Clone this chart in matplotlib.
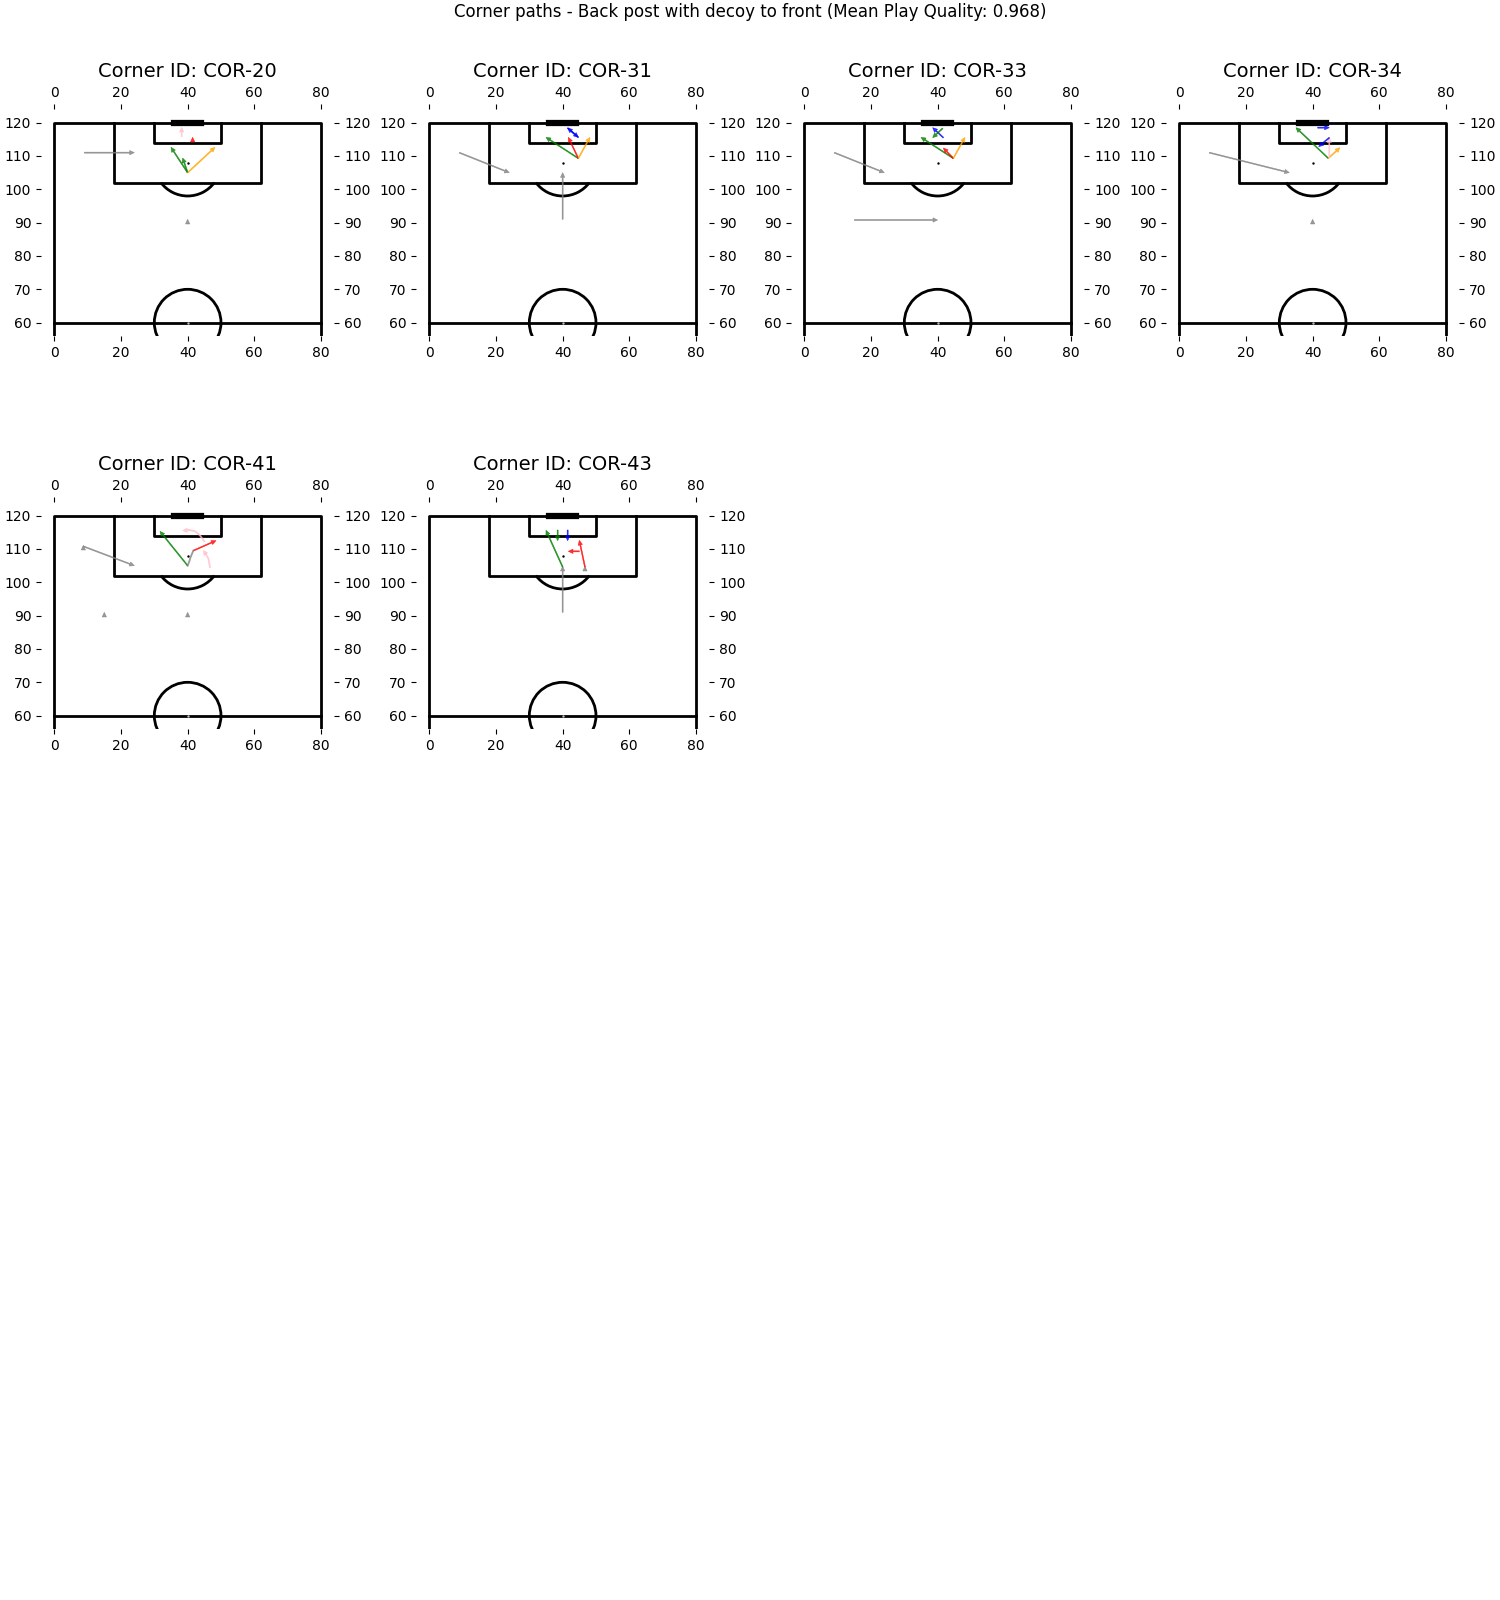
import numpy as np
import matplotlib.pyplot as plt
from matplotlib.patches import Arc, Circle

# ---------- data ----------
suptitle = 'Corner paths - Back post with decoy to front (Mean Play Quality: 0.968)'
corner_ids = ['COR-20', 'COR-31', 'COR-33', 'COR-34', 'COR-41', 'COR-43']

# (x0, y0, x1, y1, colour) in statsbomb pitch units
arrows_cor20 = [(9, 111, 24, 111, 'gray'), (40, 89.6, 40, 91.0, 'gray'),
                (40, 105, 35, 112.6, 'green'), (40, 105, 38.5, 109.4, 'green'),
                (40, 105, 48.2, 112.6, 'orange'), (41.5, 114.2, 41.5, 115.6, 'red'),
                (38.2, 115.8, 38.2, 118.6, 'pink')]
arrows_cor31 = [(9, 111, 24, 105, 'gray'), (40, 91, 40, 105, 'gray'),
                (44.7, 109.3, 35, 115.6, 'green'), (44.7, 109.3, 41.7, 115.6, 'red'),
                (44.7, 109.3, 48.2, 115.6, 'orange'), (44.7, 115.6, 41.5, 118.4, 'blue'),
                (41.5, 118.4, 44.7, 115.6, 'blue')]
arrows_cor33 = [(9, 111, 24, 105, 'gray'), (15, 90.8, 40, 90.8, 'gray'),
                (44.7, 109.3, 35, 115.6, 'green'), (44.7, 109.3, 41.7, 112.4, 'red'),
                (44.7, 109.3, 48.2, 115.6, 'orange'), (41.7, 115.5, 38.5, 118.5, 'blue'),
                (41.5, 118.3, 38.5, 115.5, 'green')]
arrows_cor34 = [(9, 111, 33, 105, 'gray'), (40, 89.6, 40, 91.0, 'gray'),
                (44.7, 109.3, 35, 118.5, 'green'), (44.7, 109.3, 48.2, 112.5, 'orange'),
                (45, 109.5, 45, 115.5, 'pink'), (45, 115.5, 41.8, 112.8, 'blue'),
                (41.5, 118.5, 45, 118.5, 'blue')]
arrows_cor41 = [(8.7, 110.8, 24, 105, 'gray'), (8.7, 109.7, 8.7, 111.1, 'gray'),
                (15, 89.6, 15, 91.0, 'gray'), (40, 89.6, 40, 91.0, 'gray'),
                (40, 105, 31.7, 115.3, 'green'), (41.7, 109.5, 48.5, 112.5, 'red')]
arrows_cor43 = [(40, 91, 40, 104.8, 'gray'), (46.7, 103.4, 46.7, 104.8, 'gray'),
                (40, 104.6, 35, 115.6, 'green'), (38.5, 115.7, 38.5, 112.5, 'green'),
                (41.5, 115.7, 41.5, 112.5, 'blue'), (45, 109.3, 41.7, 109.3, 'red'),
                (46.7, 104.6, 45, 112.6, 'red')]

# curved carries: (xs, ys, colour, has_head)
paths_cor41 = [([40, 40.5, 40.9, 41.7], [105, 106.3, 107.6, 109.5], 'gray', False),
               ([46.7, 46.2, 45.3, 44.7], [104.6, 107.2, 108.7, 109.6], 'pink', True),
               ([45, 43.6, 42.3, 40.5, 38.5], [112.3, 114.2, 115.3, 115.7, 115.5], 'pink', True)]

all_arrows = [arrows_cor20, arrows_cor31, arrows_cor33, arrows_cor34, arrows_cor41, arrows_cor43]
all_paths = [[], [], [], [], paths_cor41, []]

# ---------- helpers ----------
def draw_pitch(ax):
    kw = dict(color='black', lw=2, zorder=1)
    ax.plot([0, 80, 80, 0, 0], [0, 0, 120, 120, 0], **kw)
    ax.plot([0, 80], [60, 60], **kw)
    ax.plot([18, 18, 62, 62], [120, 102, 102, 120], **kw)
    ax.plot([30, 30, 50, 50], [120, 114, 114, 120], **kw)
    ax.plot([36, 44], [120, 120], color='black', lw=4.5, solid_capstyle='projecting', zorder=1)
    ax.add_patch(Arc((40, 108), 20, 20, theta1=216.87, theta2=323.13, color='black', lw=2, zorder=1))
    ax.add_patch(Circle((40, 60), 10, fill=False, ec='black', lw=2, zorder=1))
    ax.scatter([40], [108], s=3, c='black', lw=0, zorder=1)
    ax.scatter([40], [60], s=3, c='#bbbbbb', lw=0, zorder=1)


def draw_arrow(ax, x0, y0, x1, y1, col):
    ax.arrow(x0, y0, x1 - x0, y1 - y0, width=0.3, head_width=1.3, head_length=1.4,
             length_includes_head=True, fc=col, ec=col, lw=0.4, alpha=0.8, zorder=3)


fig = plt.figure(figsize=(15, 16), dpi=100)
W, H = 1500, 1600
ax_w, ax_h = 293.3, 226.7

for k, cid in enumerate(corner_ids):
    r, c = divmod(k, 4)
    left = 41 + 375 * c
    top = 109.3 + 393 * r
    ax = fig.add_axes([left / W, 1 - (top + ax_h) / H, ax_w / W, ax_h / H])
    draw_pitch(ax)
    for x0, y0, x1, y1, col in all_arrows[k]:
        draw_arrow(ax, x0, y0, x1, y1, col)
    for xs, ys, col, head in all_paths[k]:
        if head:
            ax.plot(xs[:-1], ys[:-1], color=col, alpha=0.8, lw=1.3, zorder=3)
            draw_arrow(ax, xs[-2], ys[-2], xs[-1], ys[-1], col)
        else:
            ax.plot(xs, ys, color=col, alpha=0.8, lw=1.3, zorder=3)
    ax.set_xlim(-4, 84)
    ax.set_ylim(56, 124)
    ax.set_aspect('equal')
    ax.set_xticks([0, 20, 40, 60, 80])
    ax.set_yticks([60, 70, 80, 90, 100, 110, 120])
    ax.tick_params(top=True, bottom=True, left=True, right=True,
                   labeltop=True, labelbottom=True, labelleft=True, labelright=True)
    for s in ax.spines.values():
        s.set_visible(False)
    ax.set_title(f'Corner ID: {cid}', fontsize=14)

fig.suptitle(suptitle, fontsize=12, y=0.998)
fig.savefig('out.png', dpi=100)
